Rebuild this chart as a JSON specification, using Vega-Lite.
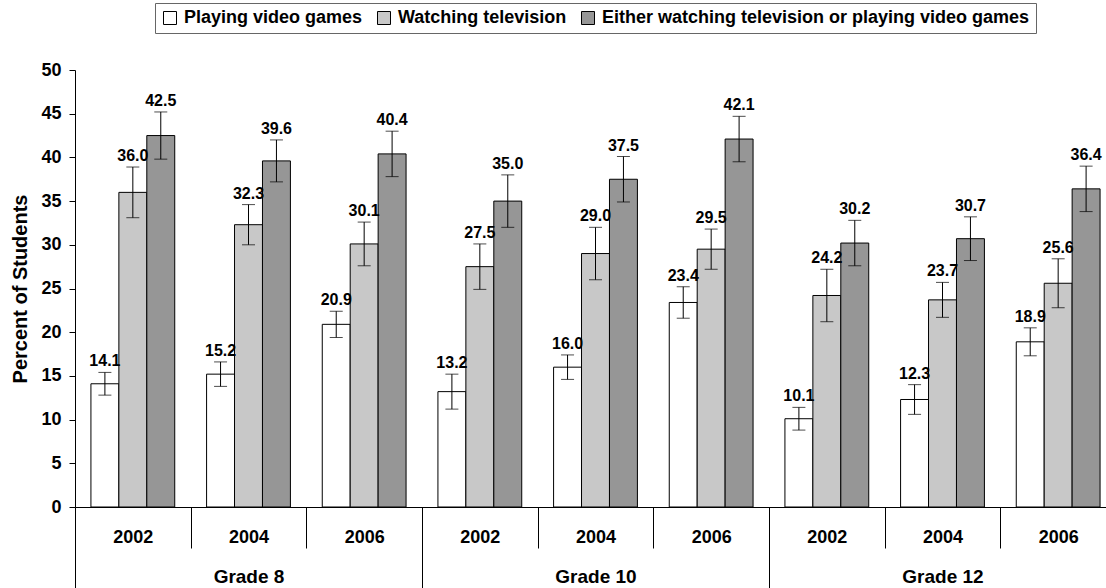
{
  "$schema": "https://vega.github.io/schema/vega-lite/v6.json",
  "autosize": {"type": "none"},
  "width": 1031,
  "height": 437,
  "padding": {"left": 75, "top": 70, "right": 0, "bottom": 81},
  "background": "white",
  "config": {
    "view": {"stroke": null},
    "font": "Liberation Sans",
    "axis": {"labelColor": "black", "titleColor": "black", "tickColor": "black", "domainColor": "black", "grid": false}
  },
  "data": {"values": [
    {"grade": "Grade 8", "group": "Grade 8|2002", "series": "Playing video games", "value": 14.1, "lo": 12.8, "hi": 15.4},
    {"grade": "Grade 8", "group": "Grade 8|2002", "series": "Watching television", "value": 36.0, "lo": 33.1, "hi": 38.9},
    {"grade": "Grade 8", "group": "Grade 8|2002", "series": "Either watching television or playing video games", "value": 42.5, "lo": 39.8, "hi": 45.2},
    {"grade": "Grade 8", "group": "Grade 8|2004", "series": "Playing video games", "value": 15.2, "lo": 13.8, "hi": 16.6},
    {"grade": "Grade 8", "group": "Grade 8|2004", "series": "Watching television", "value": 32.3, "lo": 30.0, "hi": 34.6},
    {"grade": "Grade 8", "group": "Grade 8|2004", "series": "Either watching television or playing video games", "value": 39.6, "lo": 37.2, "hi": 42.0},
    {"grade": "Grade 8", "group": "Grade 8|2006", "series": "Playing video games", "value": 20.9, "lo": 19.4, "hi": 22.4},
    {"grade": "Grade 8", "group": "Grade 8|2006", "series": "Watching television", "value": 30.1, "lo": 27.6, "hi": 32.6},
    {"grade": "Grade 8", "group": "Grade 8|2006", "series": "Either watching television or playing video games", "value": 40.4, "lo": 37.8, "hi": 43.0},
    {"grade": "Grade 10", "group": "Grade 10|2002", "series": "Playing video games", "value": 13.2, "lo": 11.2, "hi": 15.2},
    {"grade": "Grade 10", "group": "Grade 10|2002", "series": "Watching television", "value": 27.5, "lo": 24.9, "hi": 30.1},
    {"grade": "Grade 10", "group": "Grade 10|2002", "series": "Either watching television or playing video games", "value": 35.0, "lo": 32.0, "hi": 38.0},
    {"grade": "Grade 10", "group": "Grade 10|2004", "series": "Playing video games", "value": 16.0, "lo": 14.6, "hi": 17.4},
    {"grade": "Grade 10", "group": "Grade 10|2004", "series": "Watching television", "value": 29.0, "lo": 26.0, "hi": 32.0},
    {"grade": "Grade 10", "group": "Grade 10|2004", "series": "Either watching television or playing video games", "value": 37.5, "lo": 34.9, "hi": 40.1},
    {"grade": "Grade 10", "group": "Grade 10|2006", "series": "Playing video games", "value": 23.4, "lo": 21.6, "hi": 25.2},
    {"grade": "Grade 10", "group": "Grade 10|2006", "series": "Watching television", "value": 29.5, "lo": 27.2, "hi": 31.8},
    {"grade": "Grade 10", "group": "Grade 10|2006", "series": "Either watching television or playing video games", "value": 42.1, "lo": 39.5, "hi": 44.7},
    {"grade": "Grade 12", "group": "Grade 12|2002", "series": "Playing video games", "value": 10.1, "lo": 8.8, "hi": 11.4},
    {"grade": "Grade 12", "group": "Grade 12|2002", "series": "Watching television", "value": 24.2, "lo": 21.2, "hi": 27.2},
    {"grade": "Grade 12", "group": "Grade 12|2002", "series": "Either watching television or playing video games", "value": 30.2, "lo": 27.6, "hi": 32.8},
    {"grade": "Grade 12", "group": "Grade 12|2004", "series": "Playing video games", "value": 12.3, "lo": 10.6, "hi": 14.0},
    {"grade": "Grade 12", "group": "Grade 12|2004", "series": "Watching television", "value": 23.7, "lo": 21.7, "hi": 25.7},
    {"grade": "Grade 12", "group": "Grade 12|2004", "series": "Either watching television or playing video games", "value": 30.7, "lo": 28.2, "hi": 33.2},
    {"grade": "Grade 12", "group": "Grade 12|2006", "series": "Playing video games", "value": 18.9, "lo": 17.3, "hi": 20.5},
    {"grade": "Grade 12", "group": "Grade 12|2006", "series": "Watching television", "value": 25.6, "lo": 22.8, "hi": 28.4},
    {"grade": "Grade 12", "group": "Grade 12|2006", "series": "Either watching television or playing video games", "value": 36.4, "lo": 33.8, "hi": 39.0}
  ]},
  "layer": [
    {
      "encoding": {
        "x": {
          "field": "group", "type": "nominal",
          "sort": ["Grade 8|2002", "Grade 8|2004", "Grade 8|2006", "Grade 10|2002", "Grade 10|2004", "Grade 10|2006", "Grade 12|2002", "Grade 12|2004", "Grade 12|2006"],
          "scale": {"range": [0, 1041], "paddingInner": 0, "paddingOuter": 0},
          "axis": {
            "title": null, "labelExpr": "split(datum.label, '|')[1]", "labelAngle": 0,
            "tickBand": "extent", "tickSize": 41, "labelBaseline": "middle", "labelPadding": -11,
            "labelFontSize": 18, "labelFontWeight": "bold"
          }
        },
        "xOffset": {
          "field": "series", "type": "nominal",
          "sort": ["Playing video games", "Watching television", "Either watching television or playing video games"],
          "scale": {"paddingInner": 0, "paddingOuter": 0.57}
        }
      },
      "layer": [
        {
          "mark": {"type": "bar", "stroke": "black", "strokeWidth": 1},
          "encoding": {
            "y": {"field": "value", "type": "quantitative", "title": "Percent of Students", "scale": {"domain": [0, 50], "nice": false},
                  "axis": {"values": [0, 5, 10, 15, 20, 25, 30, 35, 40, 45, 50], "tickSize": 6, "labelPadding": 8, "labelFontSize": 18, "labelFontWeight": "bold", "titleFontSize": 20, "titleFontWeight": "bold", "titlePadding": 10}},
            "fill": {
              "field": "series", "type": "nominal",
              "sort": ["Playing video games", "Watching television", "Either watching television or playing video games"],
              "scale": {"domain": ["Playing video games", "Watching television", "Either watching television or playing video games"], "range": ["#ffffff", "#c8c8c8", "#969696"]},
              "legend": {
                "orient": "none", "legendX": 80, "legendY": -67, "direction": "horizontal", "title": null,
                "strokeColor": "#666666", "padding": 6, "symbolType": "square", "symbolSize": 169,
                "symbolStrokeColor": "black", "symbolStrokeWidth": 1, "symbolOpacity": 1,
                "labelFontSize": 18, "labelFontWeight": "bold", "labelColor": "black", "columnPadding": 12, "labelOffset": 5, "labelLimit": 600
              }
            }
          }
        },
        {
          "mark": {"type": "rule", "color": "black", "strokeWidth": 1},
          "encoding": {
            "y": {"field": "lo", "type": "quantitative", "title": "Percent of Students"},
            "y2": {"field": "hi"}
          }
        },
        {
          "mark": {"type": "tick", "color": "black", "thickness": 1, "size": 13},
          "encoding": {"y": {"field": "hi", "type": "quantitative", "title": "Percent of Students"}}
        },
        {
          "mark": {"type": "tick", "color": "black", "thickness": 1, "size": 13},
          "encoding": {"y": {"field": "lo", "type": "quantitative", "title": "Percent of Students"}}
        },
        {
          "mark": {"type": "text", "fontSize": 16, "fontWeight": "bold", "baseline": "alphabetic", "dy": -6, "color": "black"},
          "encoding": {
            "y": {"field": "hi", "type": "quantitative", "title": "Percent of Students"},
            "text": {"field": "value", "type": "quantitative", "format": ".1f"}
          }
        }
      ]
    },
    {
      "mark": {"type": "point", "opacity": 0},
      "encoding": {
        "x": {
          "field": "grade", "type": "nominal", "sort": ["Grade 8", "Grade 10", "Grade 12"],
          "scale": {"range": [0, 1041], "paddingInner": 0, "paddingOuter": 0},
          "axis": {
            "orient": "bottom", "title": null, "domain": false, "labelAngle": 0,
            "tickBand": "extent", "tickSize": 81, "labelBaseline": "middle", "labelPadding": -12,
            "labelFontSize": 19, "labelFontWeight": "bold"
          }
        },
        "y": {"field": "value", "type": "quantitative", "title": "Percent of Students"}
      }
    }
  ],
  "resolve": {"scale": {"x": "independent"}}
}
